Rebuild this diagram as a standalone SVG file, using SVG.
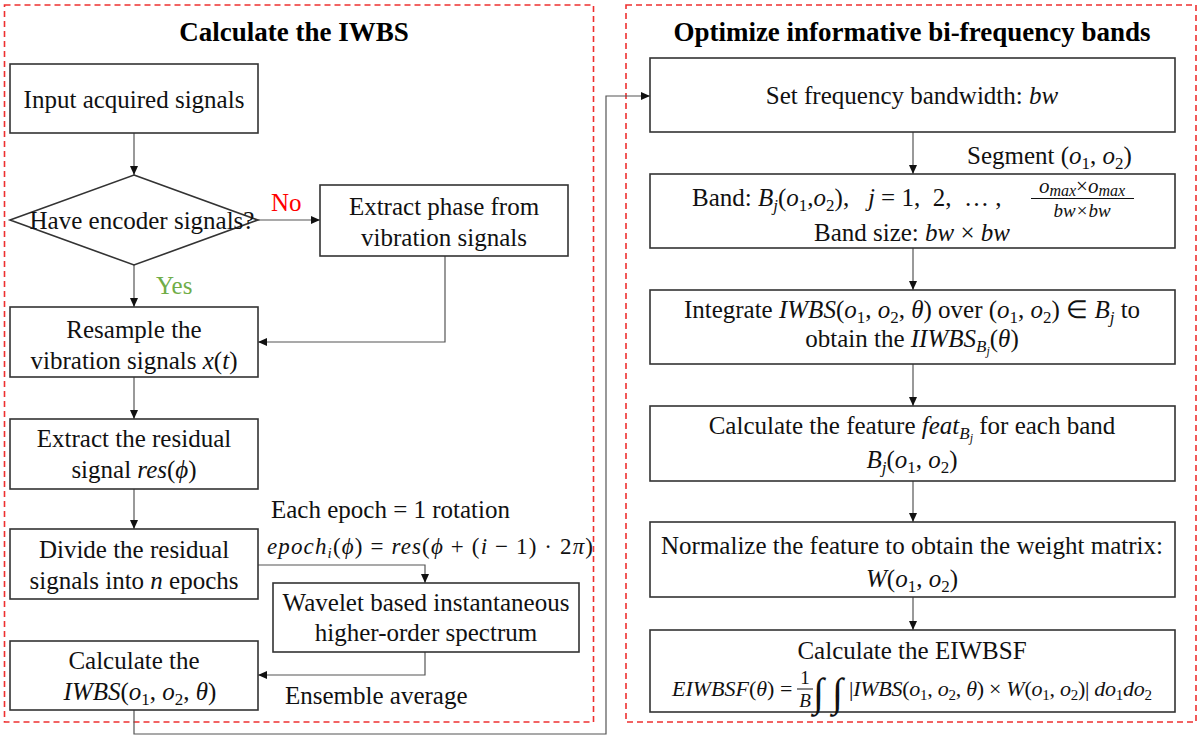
<svg xmlns="http://www.w3.org/2000/svg" width="1200" height="739" viewBox="0 0 1200 739">
<defs>
<style>
.t{font-family:"Liberation Serif","Times New Roman",serif;font-size:25px;fill:#111}
.c{text-anchor:middle}
.i{font-style:italic}
.s{font-size:17px}
.box{fill:#fff;stroke:#333;stroke-width:1.6}
.frame{fill:none;stroke:#ee3030;stroke-width:1.6;stroke-dasharray:6 4}
.ln{fill:none;stroke:#555;stroke-width:1.2}
.title{font-family:"Liberation Serif","Times New Roman",serif;font-size:27px;font-weight:bold;text-anchor:middle;fill:#000}
</style>
<marker id="ah" markerWidth="9" markerHeight="8" refX="9" refY="4" orient="auto" markerUnits="userSpaceOnUse">
<path d="M0,0 L9,4 L0,8 z" fill="#111"/>
</marker>
</defs>
<rect width="1200" height="739" fill="#fff"/>

<g id="frames">
<rect class="frame" x="4.5" y="5" width="589" height="717"/>
<rect class="frame" x="626" y="5" width="570" height="717"/>
<text class="title" x="294" y="41">Calculate the IWBS</text>
<text class="title" x="912" y="41">Optimize informative bi-frequency bands</text>
</g>

<g id="connectors">
<line class="ln" x1="134" y1="133" x2="134" y2="175" marker-end="url(#ah)"/>
<line class="ln" x1="258" y1="220" x2="320" y2="220" marker-end="url(#ah)"/>
<line class="ln" x1="134" y1="265" x2="134" y2="307" marker-end="url(#ah)"/>
<polyline class="ln" points="445,256 445,342 258,342" marker-end="url(#ah)"/>
<line class="ln" x1="134" y1="377" x2="134" y2="419" marker-end="url(#ah)"/>
<line class="ln" x1="134" y1="489" x2="134" y2="529" marker-end="url(#ah)"/>
<polyline class="ln" points="258,565 425,565 425,583" marker-end="url(#ah)"/>
<polyline class="ln" points="425,652 425,675 258,675" marker-end="url(#ah)"/>
<polyline class="ln" points="134,710 134,734 606,734 606,96 650,96" marker-end="url(#ah)"/>
<line class="ln" x1="913" y1="132" x2="913" y2="174" marker-end="url(#ah)"/>
<line class="ln" x1="913" y1="248" x2="913" y2="290" marker-end="url(#ah)"/>
<line class="ln" x1="913" y1="364" x2="913" y2="406" marker-end="url(#ah)"/>
<line class="ln" x1="913" y1="481" x2="913" y2="522" marker-end="url(#ah)"/>
<line class="ln" x1="913" y1="597" x2="913" y2="630" marker-end="url(#ah)"/>
<text class="t" x="271" y="211" style="fill:#ff0000">No</text>
<text class="t" x="156" y="294" style="fill:#70ad47">Yes</text>
<text class="t" x="271" y="518">Each epoch = 1 rotation</text>
<text class="t" x="267" y="554" textLength="326" style="font-size:23px"><tspan class="i">epoch</tspan><tspan class="i" dy="4" style="font-size:15px">i</tspan><tspan dy="-4">(</tspan><tspan class="i">ϕ</tspan>) = <tspan class="i">res</tspan>(<tspan class="i">ϕ</tspan> + (<tspan class="i">i</tspan> − 1) · 2<tspan class="i">π</tspan>)</text>
<text class="t" x="285" y="704">Ensemble average</text>
<text class="t" x="967" y="164">Segment (<tspan class="i">o</tspan><tspan class="s" dy="5">1</tspan><tspan dy="-5">, </tspan><tspan class="i">o</tspan><tspan class="s" dy="5">2</tspan><tspan dy="-5">)</tspan></text>
</g>

<g id="n-input">
<rect class="box" x="10" y="64" width="248" height="69"/>
<text class="t c" x="134" y="108">Input acquired signals</text>
</g>

<g id="n-encoder">
<polygon class="box" points="134,175 258,220 134,265 10,220"/>
<text class="t c" x="142" y="229">Have encoder signals?</text>
</g>

<g id="n-phase">
<rect class="box" x="320" y="185" width="248" height="71"/>
<text class="t c" x="444" y="215">Extract phase from</text>
<text class="t c" x="444" y="246">vibration signals</text>
</g>

<g id="n-resample">
<rect class="box" x="10" y="307" width="248" height="70"/>
<text class="t c" x="134" y="338">Resample the</text>
<text class="t c" x="134" y="369">vibration signals <tspan class="i">x</tspan>(<tspan class="i">t</tspan>)</text>
</g>

<g id="n-residual">
<rect class="box" x="10" y="419" width="248" height="70"/>
<text class="t c" x="134" y="447">Extract the residual</text>
<text class="t c" x="134" y="478">signal <tspan class="i">res</tspan>(<tspan class="i">ϕ</tspan>)</text>
</g>

<g id="n-divide">
<rect class="box" x="10" y="529" width="248" height="70"/>
<text class="t c" x="134" y="558">Divide the residual</text>
<text class="t c" x="134" y="589">signals into <tspan class="i">n</tspan> epochs</text>
</g>

<g id="n-wavelet">
<rect class="box" x="273" y="583" width="306" height="69"/>
<text class="t c" x="426" y="611">Wavelet based instantaneous</text>
<text class="t c" x="426" y="641">higher-order spectrum</text>
</g>

<g id="n-calc">
<rect class="box" x="10" y="641" width="248" height="69"/>
<text class="t c" x="134" y="669">Calculate the</text>
<text class="t c" x="140" y="700"><tspan class="i">IWBS</tspan>(<tspan class="i">o</tspan><tspan class="s" dy="5">1</tspan><tspan dy="-5">, </tspan><tspan class="i">o</tspan><tspan class="s" dy="5">2</tspan><tspan dy="-5">, </tspan><tspan class="i">θ</tspan>)</text>
</g>

<g id="n-bandwidth">
<rect class="box" x="650" y="58" width="525" height="74"/>
<text class="t c" x="912" y="104">Set frequency bandwidth: <tspan class="i">bw</tspan></text>
</g>

<g id="n-band">
<rect class="box" x="650" y="174" width="525" height="74"/>
<text class="t" x="692" y="206">Band: <tspan class="i">B</tspan><tspan class="i s" dy="5">j</tspan><tspan dy="-5">(</tspan><tspan class="i">o</tspan><tspan class="s" dy="5">1</tspan><tspan dy="-5">,</tspan><tspan class="i">o</tspan><tspan class="s" dy="5">2</tspan><tspan dy="-5">),&#160;&#160; </tspan><tspan class="i">j</tspan> = 1,&#160; 2,&#160; … ,</text>
<text class="t c" x="1082" y="193" style="font-size:21px"><tspan class="i">o</tspan><tspan class="i" dy="3" style="font-size:16px">max</tspan><tspan dy="-3">×</tspan><tspan class="i">o</tspan><tspan class="i" dy="3" style="font-size:16px">max</tspan></text>
<line x1="1031" y1="198.5" x2="1134" y2="198.5" stroke="#111" stroke-width="1"/>
<text class="t c i" x="1082" y="217" style="font-size:19px">bw×bw</text>
<text class="t c" x="912" y="241">Band size: <tspan class="i">bw</tspan> × <tspan class="i">bw</tspan></text>
</g>

<g id="n-integrate">
<rect class="box" x="650" y="290" width="525" height="74"/>
<text class="t c" x="912" y="318">Integrate <tspan class="i">IWBS</tspan>(<tspan class="i">o</tspan><tspan class="s" dy="5">1</tspan><tspan dy="-5">, </tspan><tspan class="i">o</tspan><tspan class="s" dy="5">2</tspan><tspan dy="-5">, </tspan><tspan class="i">θ</tspan>) over (<tspan class="i">o</tspan><tspan class="s" dy="5">1</tspan><tspan dy="-5">, </tspan><tspan class="i">o</tspan><tspan class="s" dy="5">2</tspan><tspan dy="-5">) ∈ </tspan><tspan class="i">B</tspan><tspan class="i s" dy="5">j</tspan><tspan dy="-5"> to</tspan></text>
<text class="t c" x="912" y="347">obtain the <tspan class="i">IIWBS</tspan><tspan class="i s" dy="5">B</tspan><tspan class="i" dy="3" style="font-size:12px">j</tspan><tspan dy="-8">(</tspan><tspan class="i">θ</tspan>)</text>
</g>

<g id="n-feature">
<rect class="box" x="650" y="406" width="525" height="75"/>
<text class="t c" x="912" y="434">Calculate the feature <tspan class="i">feat</tspan><tspan class="i s" dy="5">B</tspan><tspan class="i" dy="3" style="font-size:12px">j</tspan><tspan dy="-8"> for each band</tspan></text>
<text class="t c" x="912" y="468"><tspan class="i">B</tspan><tspan class="i s" dy="5">j</tspan><tspan dy="-5">(</tspan><tspan class="i">o</tspan><tspan class="s" dy="5">1</tspan><tspan dy="-5">, </tspan><tspan class="i">o</tspan><tspan class="s" dy="5">2</tspan><tspan dy="-5">)</tspan></text>
</g>

<g id="n-normalize">
<rect class="box" x="650" y="522" width="525" height="75"/>
<text class="t c" x="912" y="554">Normalize the feature to obtain the weight matrix:</text>
<text class="t c" x="912" y="587"><tspan class="i">W</tspan>(<tspan class="i">o</tspan><tspan class="s" dy="5">1</tspan><tspan dy="-5">, </tspan><tspan class="i">o</tspan><tspan class="s" dy="5">2</tspan><tspan dy="-5">)</tspan></text>
</g>

<g id="n-eiwbsf">
<rect class="box" x="650" y="630" width="525" height="82"/>
<text class="t c" x="912" y="659">Calculate the EIWBSF</text>
<text class="t" x="672" y="696" style="font-size:22px"><tspan class="i">EIWBSF</tspan>(<tspan class="i">θ</tspan>) =</text>
<text class="t c" x="805" y="684" style="font-size:19px">1</text>
<line x1="797" y1="689" x2="813" y2="689" stroke="#111" stroke-width="1"/>
<text class="t c i" x="805" y="707" style="font-size:19px">B</text>
<text class="t" x="813" y="706" style="font-size:40px">∫</text>
<text class="t" x="832" y="706" style="font-size:40px">∫</text>
<text class="t" x="849" y="696" textLength="303" style="font-size:22px">|<tspan class="i">IWBS</tspan>(<tspan class="i">o</tspan><tspan dy="4" style="font-size:15px">1</tspan><tspan dy="-4">, </tspan><tspan class="i">o</tspan><tspan dy="4" style="font-size:15px">2</tspan><tspan dy="-4">, </tspan><tspan class="i">θ</tspan>) × <tspan class="i">W</tspan>(<tspan class="i">o</tspan><tspan dy="4" style="font-size:15px">1</tspan><tspan dy="-4">, </tspan><tspan class="i">o</tspan><tspan dy="4" style="font-size:15px">2</tspan><tspan dy="-4">)| </tspan><tspan class="i">do</tspan><tspan dy="4" style="font-size:15px">1</tspan><tspan class="i" dy="-4">do</tspan><tspan dy="4" style="font-size:15px">2</tspan></text>
</g>
</svg>
